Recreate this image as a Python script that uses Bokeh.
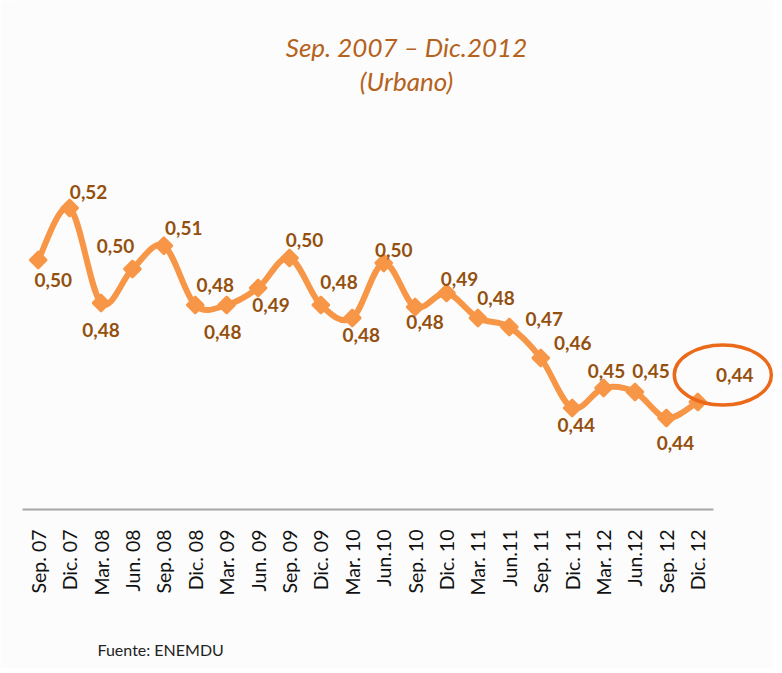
import math
from bokeh.plotting import figure
from bokeh.models import ColumnDataSource, LabelSet, Label, FixedTicker, Range1d, Title
from bokeh.core.properties import value
from bokeh.embed import file_html
from bokeh.resources import INLINE

categories = ["Sep. 07", "Dic. 07", "Mar. 08", "Jun. 08", "Sep. 08", "Dic. 08",
              "Mar. 09", "Jun. 09", "Sep. 09", "Dic. 09", "Mar. 10", "Jun.10",
              "Sep. 10", "Dic. 10", "Mar. 11", "Jun.11", "Sep. 11", "Dic. 11",
              "Mar. 12", "Jun.12", "Sep. 12", "Dic. 12"]
gini = [0.4998, 0.5206, 0.4826, 0.4962, 0.5055, 0.4818, 0.4818, 0.4886,
        0.5006, 0.4818, 0.4766, 0.4986, 0.4810, 0.4866, 0.4766, 0.4730,
        0.4606, 0.4406, 0.4486, 0.4470, 0.4366, 0.4430]
title_lines = ["Sep. 2007 \u2013 Dic.2012", "(Urbano)"]
source_note = "Fuente: ENEMDU"

# label placement (screen px offsets, style only)
lbl_dx = [15, 19, 0, -17, 20, 20, -4, 13, 15, 18, 9, 10, 10, 13, 18, 35, 32, 4, 3, 16, 9, 37]
lbl_dy = [-20, 16, -27, 23, 18, 20, -27, -17, 18, 23, -17, 13, -15, 14, 20, 8, 15, -17, 17, 21, -25, 27]

LINE = "#F79646"
LBL = "#94500E"
TITLE = "#B5621C"
BG = "#FCFCFC"

n = len(gini)
xs = list(range(n))
labels = [f"{v:.2f}".replace(".", ",") for v in gini]

px_per_unit = 31.41
frame_w = 752
frame_h = 509
p = figure(width=774, height=668, output_backend="svg", toolbar_location=None,
           x_range=Range1d(-0.5, -0.5 + frame_w / px_per_unit),
           y_range=Range1d(0.40, 0.40 + frame_h / 2500),
           min_border_left=22, min_border_right=0, min_border_top=0, min_border_bottom=159)
p.background_fill_color = BG
p.border_fill_color = BG
p.outline_line_color = None
p.grid.visible = False
p.yaxis.visible = False

ax = p.xaxis[0]
ax.ticker = FixedTicker(ticks=xs)
ax.major_label_overrides = {i: c for i, c in enumerate(categories)}
ax.bounds = (-0.5, n - 0.5)
ax.axis_line_color = "#A6A6A6"
ax.axis_line_width = 2
ax.major_tick_line_color = None
ax.minor_tick_line_color = None
ax.major_tick_out = 0
ax.major_tick_in = 0
ax.major_label_standoff = 20
ax.major_label_orientation = math.pi / 2
ax.major_label_text_font = "Lato"
ax.major_label_text_font_size = "19.5px"
ax.major_label_text_color = "#111111"

# smoothed line via cubic Bezier segments through the data points
def pt(i):
    i = max(0, min(n - 1, i))
    return xs[i], gini[i]

bz = dict(x0=[], y0=[], x1=[], y1=[], cx0=[], cy0=[], cx1=[], cy1=[])
for i in range(n - 1):
    p0, p1, p2, p3 = pt(i - 1), pt(i), pt(i + 1), pt(i + 2)
    bz["x0"].append(p1[0]); bz["y0"].append(p1[1])
    bz["x1"].append(p2[0]); bz["y1"].append(p2[1])
    bz["cx0"].append(p1[0] + (p2[0] - p0[0]) / 6); bz["cy0"].append(p1[1] + (p2[1] - p0[1]) / 6)
    bz["cx1"].append(p2[0] - (p3[0] - p1[0]) / 6); bz["cy1"].append(p2[1] - (p3[1] - p1[1]) / 6)
p.bezier(source=ColumnDataSource(bz), x0="x0", y0="y0", x1="x1", y1="y1",
         cx0="cx0", cy0="cy0", cx1="cx1", cy1="cy1",
         line_color=LINE, line_width=6, line_cap="round")

src = ColumnDataSource(dict(x=xs, y=gini, lab=labels, dx=lbl_dx, dy=lbl_dy))
p.scatter("x", "y", source=src, marker="square", size=12, angle=math.pi / 4,
          fill_color=LINE, line_color=LINE, line_width=2)

p.add_layout(LabelSet(x="x", y="y", text="lab", source=src, x_offset="dx", y_offset="dy",
                      text_align="center", text_baseline="middle",
                      text_font=value("Lato"), text_font_style="bold", text_font_size="19px",
                      text_color=LBL))

# highlight ring around the last value
p.ellipse(x=[xs[-1] + 25 / px_per_unit], y=[gini[-1] + 27 / 2500], width=97, height=60,
          width_units="screen", height_units="screen",
          fill_color=None, line_color="#EB6A1A", line_width=3.5)

for txt, yy in zip(title_lines, [frame_h - 46, frame_h - 80]):
    p.add_layout(Label(x=384, y=yy, x_units="screen", y_units="screen", text=txt,
                       text_align="center", text_baseline="middle",
                       text_font="Lato", text_font_style="italic", text_font_size="26px",
                       text_color=TITLE))

# spacer between the axis labels and the source note
p.add_layout(Title(text=" ", text_font_size="2px", standoff=30), "below")
p.add_layout(Title(text=source_note, align="left", offset=75, standoff=10,
                   text_font="Lato", text_font_style="normal", text_font_size="16px",
                   text_color="#222222"), "below")

open("out.html", "w").write(file_html(p, INLINE))
